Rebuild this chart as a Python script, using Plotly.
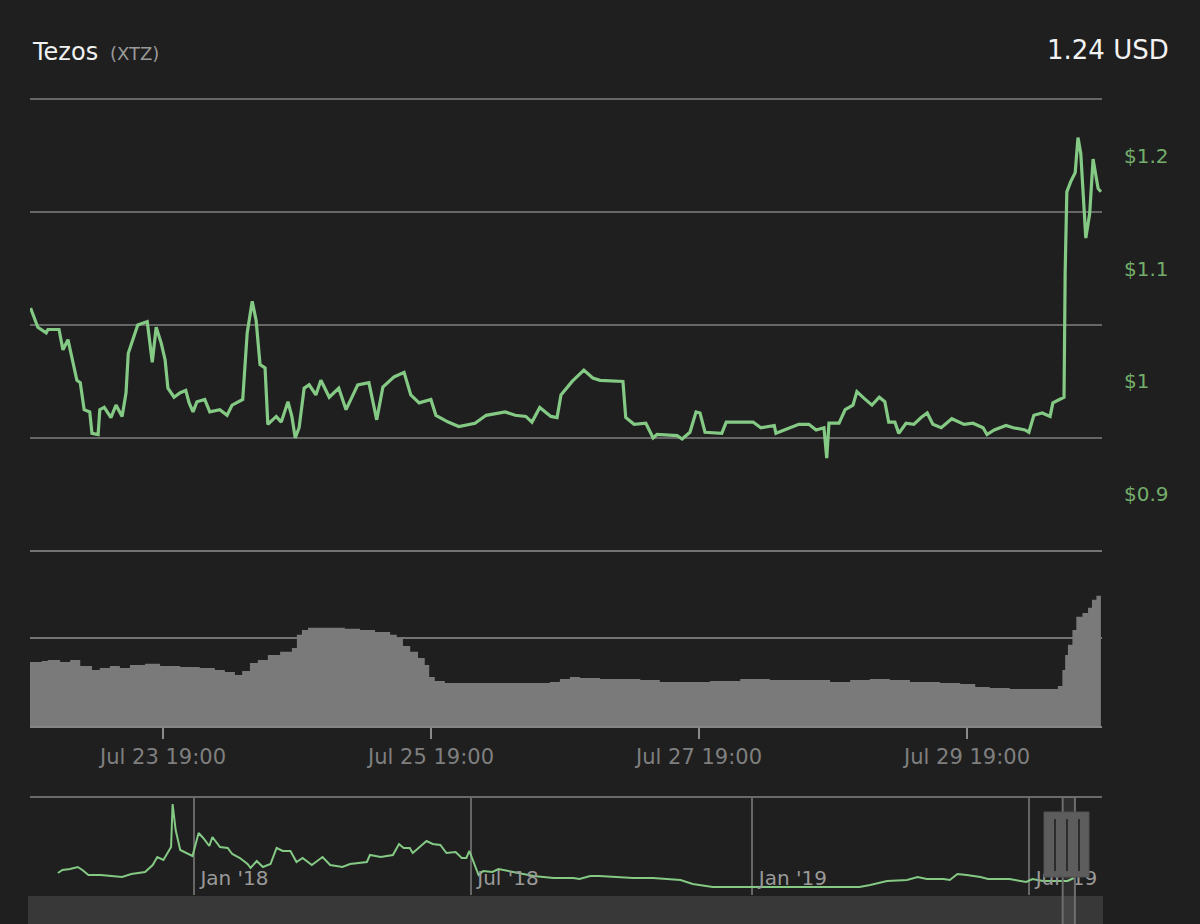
import pandas as pd
import plotly.graph_objects as go

W, H = 1200, 924
BG = "#1f1f1f"
GREEN = "#84c984"
LABEL_GREEN = "#73ad6b"
GRID = "#666666"

# visible window of the main chart
start = pd.Timestamp("2019-07-22 19:10")
end = pd.Timestamp("2019-07-30 19:10")

# price, hours after `start`
price_hours = [
    0.1, 1.1, 1.4, 2.9, 3.2, 5.2, 5.9, 6.8, 7.3, 8.4,
    9.0, 9.7, 10.7, 11.1, 12.2, 12.5, 13.3, 14.5, 15.4, 16.5,
    17.2, 17.6, 19.3, 21.0, 21.9, 22.6, 23.5, 24.2, 24.7, 25.8,
    26.9, 27.9, 28.5, 29.2, 29.9, 31.3, 32.2, 34.0, 35.3, 36.2,
    38.1, 38.9, 39.8, 40.5, 41.2, 42.1, 42.6, 44.1, 45.0, 46.2,
    46.9, 47.5, 48.2, 49.1, 50.0, 51.2, 52.1, 53.6, 55.3, 56.6,
    58.7, 60.7, 62.1, 63.2, 65.2, 67.0, 68.2, 69.7, 71.8, 72.7,
    74.9, 76.8, 79.7, 81.7, 85.1, 86.9, 88.8, 89.9, 91.3, 93.3,
    94.4, 95.1, 97.1, 99.2, 100.8, 102.1, 106.2, 106.7, 108.2, 110.3,
    111.6, 112.3, 115.9, 116.8, 118.2, 119.3, 120.0, 120.9, 123.9, 124.7,
    129.5, 130.9, 133.3, 133.6, 137.7, 139.5, 140.8, 142.2, 142.7, 143.1,
    144.9, 146.0, 147.4, 148.1, 149.4, 150.8, 152.1, 153.1, 153.8, 154.9,
    155.6, 156.9, 158.3, 159.6, 160.7, 161.7, 163.2, 165.1, 167.3, 168.9,
    170.7, 171.4, 172.7, 174.8, 176.1, 178.2, 178.9, 179.8, 181.3, 182.7,
    183.2, 184.7, 185.2, 185.4, 185.7, 186.4, 187.2, 187.7, 188.2, 189.1,
    189.8, 190.4, 191.3, 191.8,
]
price_usd = [
    1.065, 1.053, 1.048, 1.043, 1.046, 1.046, 1.028, 1.037, 1.025, 1.001,
    0.999, 0.975, 0.973, 0.954, 0.953, 0.975, 0.977, 0.968, 0.979, 0.969,
    0.990, 1.025, 1.050, 1.053, 1.017, 1.048, 1.034, 1.019, 0.994, 0.986,
    0.990, 0.992, 0.981, 0.973, 0.982, 0.984, 0.973, 0.975, 0.970, 0.979,
    0.984, 1.043, 1.071, 1.054, 1.015, 1.012, 0.962, 0.969, 0.964, 0.982,
    0.969, 0.950, 0.959, 0.994, 0.997, 0.988, 1.001, 0.986, 0.994, 0.975,
    0.997, 0.999, 0.966, 0.995, 1.004, 1.008, 0.988, 0.981, 0.984, 0.970,
    0.964, 0.960, 0.963, 0.970, 0.973, 0.970, 0.969, 0.964, 0.977, 0.969,
    0.968, 0.988, 1.000, 1.010, 1.003, 1.001, 1.000, 0.968, 0.962, 0.963,
    0.950, 0.953, 0.952, 0.949, 0.955, 0.973, 0.972, 0.955, 0.954, 0.964,
    0.964, 0.959, 0.961, 0.954, 0.962, 0.962, 0.957, 0.959, 0.932, 0.963,
    0.963, 0.975, 0.979, 0.991, 0.985, 0.979, 0.986, 0.982, 0.964, 0.964,
    0.954, 0.963, 0.962, 0.968, 0.972, 0.962, 0.959, 0.967, 0.962, 0.963,
    0.959, 0.953, 0.957, 0.961, 0.959, 0.957, 0.955, 0.970, 0.972, 0.969,
    0.981, 0.985, 0.986, 1.096, 1.168, 1.177, 1.185, 1.216, 1.202, 1.127,
    1.149, 1.197, 1.171, 1.168,
]

# 24h volume (million USD), hours after `start`
volume_hours = [
    0, 2.1, 3.2, 5.4, 7.2, 9.0, 11.1, 12.5, 14.3, 16.1,
    17.9, 20.6, 23.3, 26.9, 30.4, 33.1, 34.9, 36.7, 38.0, 39.4,
    40.8, 42.6, 44.8, 46.9, 47.8, 48.7, 49.8, 53.7, 56.4, 59.1,
    61.8, 64.5, 65.7, 66.8, 68.1, 69.5, 70.7, 71.5, 72.5, 74.3,
    80.6, 87.8, 93.1, 94.9, 96.7, 98.5, 102.1, 109.3, 112.8, 118.2,
    121.8, 127.2, 132.5, 137.9, 143.3, 146.9, 150.4, 154.0, 157.6, 163.0,
    166.6, 169.3, 171.9, 175.5, 180.9, 183.6, 184.1, 184.9, 185.4, 185.9,
    186.7, 187.4, 188.5, 189.5, 190.2, 191.0, 191.8,
]
volume_musd = [
    7.31, 7.43, 7.54, 7.31, 7.54, 6.86, 6.40, 6.63, 6.86, 6.63,
    6.97, 7.09, 6.86, 6.74, 6.63, 6.40, 6.17, 5.83, 6.29, 7.20,
    7.54, 8.11, 8.46, 8.91, 10.4, 10.97, 11.2, 11.2, 11.09, 10.97,
    10.74, 10.4, 10.06, 9.14, 8.46, 7.77, 6.97, 5.6, 5.14, 4.91,
    4.91, 4.91, 5.03, 5.37, 5.6, 5.49, 5.37, 5.26, 5.03, 5.03,
    5.14, 5.37, 5.26, 5.26, 5.03, 5.26, 5.37, 5.26, 5.03, 4.91,
    4.8, 4.46, 4.34, 4.23, 4.23, 4.23, 4.57, 6.4, 8.11, 9.26,
    10.97, 12.46, 12.91, 13.49, 14.4, 14.86, 15.09,
]

# navigator history, days after 2018-01-01
nav_base = pd.Timestamp("2018-01-01")
nav_days = [
    -89, -86, -81, -76, -73, -69, -61, -53, -47, -41,
    -32, -27, -24, -20, -17, -15, -14, -12, -9, -5,
    -1, 3, 6, 10, 12, 17, 22, 25, 30, 35,
    37, 41, 45, 50, 54, 58, 63, 67, 71, 77,
    84, 89, 97, 102, 113, 115, 122, 130, 134, 137,
    141, 143, 152, 156, 161, 165, 171, 175, 178, 180,
    184, 186, 189, 195, 199, 209, 222, 235, 248, 252,
    259, 265, 274, 287, 300, 313, 318, 326, 339, 361,
    383, 405, 435, 442, 453, 466, 473, 479, 490, 494,
    499, 505, 514, 519, 533, 544, 548, 555, 566, 571,
    575,
]
nav_usd = [
    1.7, 2.0, 2.1, 2.3, 2.0, 1.5, 1.5, 1.4, 1.3, 1.6,
    1.8, 2.5, 3.3, 3.0, 3.8, 4.3, 8.6, 6.0, 4.0, 3.7,
    3.4, 5.7, 5.2, 4.4, 5.3, 4.3, 4.2, 3.6, 3.2, 2.6,
    2.2, 2.9, 2.3, 2.6, 4.2, 3.9, 3.9, 2.8, 3.2, 2.5,
    3.3, 2.5, 2.3, 2.6, 2.8, 3.5, 3.3, 3.5, 4.6, 4.2,
    4.2, 3.7, 4.9, 4.6, 4.5, 3.7, 3.8, 3.2, 3.2, 3.9,
    2.3, 1.5, 1.9, 1.8, 2.1, 1.8, 1.4, 1.2, 1.2, 1.1,
    1.4, 1.4, 1.3, 1.2, 1.2, 1.1, 1.0, 0.6, 0.3, 0.3,
    0.3, 0.3, 0.3, 0.5, 0.9, 1.0, 1.3, 1.1, 1.1, 1.0,
    1.6, 1.5, 1.3, 1.1, 1.1, 0.8, 1.1, 0.9, 0.9, 0.9,
    1.2,
]

price_ticks = [0.9, 1.0, 1.1, 1.2]
price_tick_text = ["$0.9", "$1", "$1.1", "$1.2"]
price_grid = [0.85, 0.95, 1.05, 1.15, 1.25]
volume_grid = [10, 20]
time_ticks = ["2019-07-23 19:00", "2019-07-25 19:00", "2019-07-27 19:00", "2019-07-29 19:00"]
nav_ticks = ["2018-01-01", "2018-07-01", "2019-01-01", "2019-07-01"]
nav_range = ["2017-09-15 19:00", "2019-08-17 12:00"]


def fx(p):
    return p / W


def fy(p):
    return 1 - p / H


price_x = start + pd.to_timedelta(price_hours, unit="h")
volume_x = start + pd.to_timedelta(volume_hours, unit="h")
nav_x = nav_base + pd.to_timedelta(nav_days, unit="D")

fig = go.Figure()
fig.add_trace(go.Scatter(x=price_x, y=price_usd, mode="lines",
                         line=dict(color=GREEN, width=3.2), xaxis="x", yaxis="y"))
fig.add_trace(go.Scatter(x=volume_x, y=volume_musd, mode="lines", fill="tozeroy",
                         line=dict(width=0, shape="hv"), fillcolor="#7a7a7a",
                         xaxis="x2", yaxis="y2"))
fig.add_trace(go.Scatter(x=nav_x, y=nav_usd, mode="lines",
                         line=dict(color=GREEN, width=2), xaxis="x3", yaxis="y3"))

dom_x = [fx(30), fx(1102)]
font = "DejaVu Sans"

shapes = [
    # scrollbar track
    dict(type="rect", xref="paper", yref="paper", x0=fx(28), x1=fx(1103), y0=fy(924), y1=fy(896),
         fillcolor="#383838", line=dict(width=0), layer="below"),
    # navigator outline top
    dict(type="line", xref="paper", yref="paper", x0=fx(30), x1=fx(1102), y0=fy(797), y1=fy(797),
         line=dict(color="#6a6a6a", width=2)),
    # selected range in navigator
    dict(type="rect", xref="x3", yref="paper", x0=start, x1=end, y0=fy(924), y1=fy(797),
         fillcolor="rgba(255,255,255,0.07)", line=dict(width=0)),
    dict(type="line", xref="x3", yref="paper", x0=start, x1=start, y0=fy(924), y1=fy(797),
         line=dict(color="#6e6e6e", width=2)),
    dict(type="line", xref="x3", yref="paper", x0=end, x1=end, y0=fy(924), y1=fy(797),
         line=dict(color="#6e6e6e", width=2)),
    # handle body
    dict(type="rect", xref="paper", yref="paper", x0=fx(1044), x1=fx(1089),
         y0=fy(877), y1=fy(812), fillcolor="#5d5d5d", line=dict(color="#525252", width=1)),
]
# handle grips
for grip in [1055, 1067, 1079]:
    shapes.append(dict(type="line", xref="paper", yref="paper", x0=fx(grip), x1=fx(grip),
                       y0=fy(871), y1=fy(819), line=dict(color="#2c2c2c", width=2)))

fig.update_layout(
    width=W, height=H,
    margin=dict(l=0, r=0, t=0, b=0),
    paper_bgcolor=BG, plot_bgcolor=BG,
    showlegend=False,
    font=dict(family=font, color="#808080"),
    xaxis=dict(domain=dom_x, anchor="y", type="date", range=[start, end],
               showticklabels=False, showgrid=False, zeroline=False, fixedrange=True),
    yaxis=dict(domain=[fy(553), fy(97)], anchor="x", range=[0.848, 1.252], side="right",
               tickmode="array", tickvals=price_ticks, ticktext=price_tick_text,
               showgrid=False, zeroline=False, ticks="", ticklabelstandoff=21,
               tickfont=dict(size=20, color=LABEL_GREEN),
               minor=dict(tickmode="array", tickvals=price_grid, showgrid=True,
                          gridcolor=GRID, gridwidth=2, ticks=""),
               fixedrange=True),
    xaxis2=dict(domain=dom_x, anchor="y2", type="date", matches="x",
                tickmode="array", tickvals=time_ticks, tickformat="%b %d %H:%M",
                ticks="outside", ticklen=11, tickwidth=2, tickcolor="#8a8a8a",
                tickfont=dict(size=21, color="#7f7f7f"),
                showline=True, linecolor="#858585", linewidth=2,
                showgrid=False, zeroline=False, fixedrange=True),
    yaxis2=dict(domain=[fy(726), fy(549)], anchor="x2", range=[0, 20.2],
                tickmode="array", tickvals=volume_grid, showticklabels=False,
                showgrid=True, gridcolor="#747474", gridwidth=2, zeroline=False, fixedrange=True),
    xaxis3=dict(domain=dom_x, anchor="y3", type="date", range=nav_range,
                tickmode="array", tickvals=nav_ticks, tickformat="\u00a0%b '%y",
                ticklabelposition="inside right", ticks="",
                tickfont=dict(size=20, color="#9a9a9a"),
                showgrid=True, gridcolor="#666666", gridwidth=2, zeroline=False,
                fixedrange=True),
    yaxis3=dict(domain=[fy(895), fy(797)], anchor="x3", range=[-0.5, 9.3],
                visible=False, fixedrange=True),
    shapes=shapes,
    annotations=[
        dict(text="Tezos", xref="paper", yref="paper", x=fx(30), y=fy(52),
             xanchor="left", yanchor="middle", showarrow=False,
             font=dict(family=font, size=24, color="#f0f0f0")),
        dict(text="(XTZ)", xref="paper", yref="paper", x=fx(108), y=fy(54),
             xanchor="left", yanchor="middle", showarrow=False,
             font=dict(family=font, size=18, color="#9a9a9a")),
        dict(text="1.24 USD", xref="paper", yref="paper", x=fx(1171), y=fy(50),
             xanchor="right", yanchor="middle", showarrow=False,
             font=dict(family=font, size=26, color="#f2f2f2")),
    ],
)

fig.write_html("out.html", config={"displayModeBar": False},
               post_script="document.body.style.margin='0';document.body.style.overflow='hidden';")
